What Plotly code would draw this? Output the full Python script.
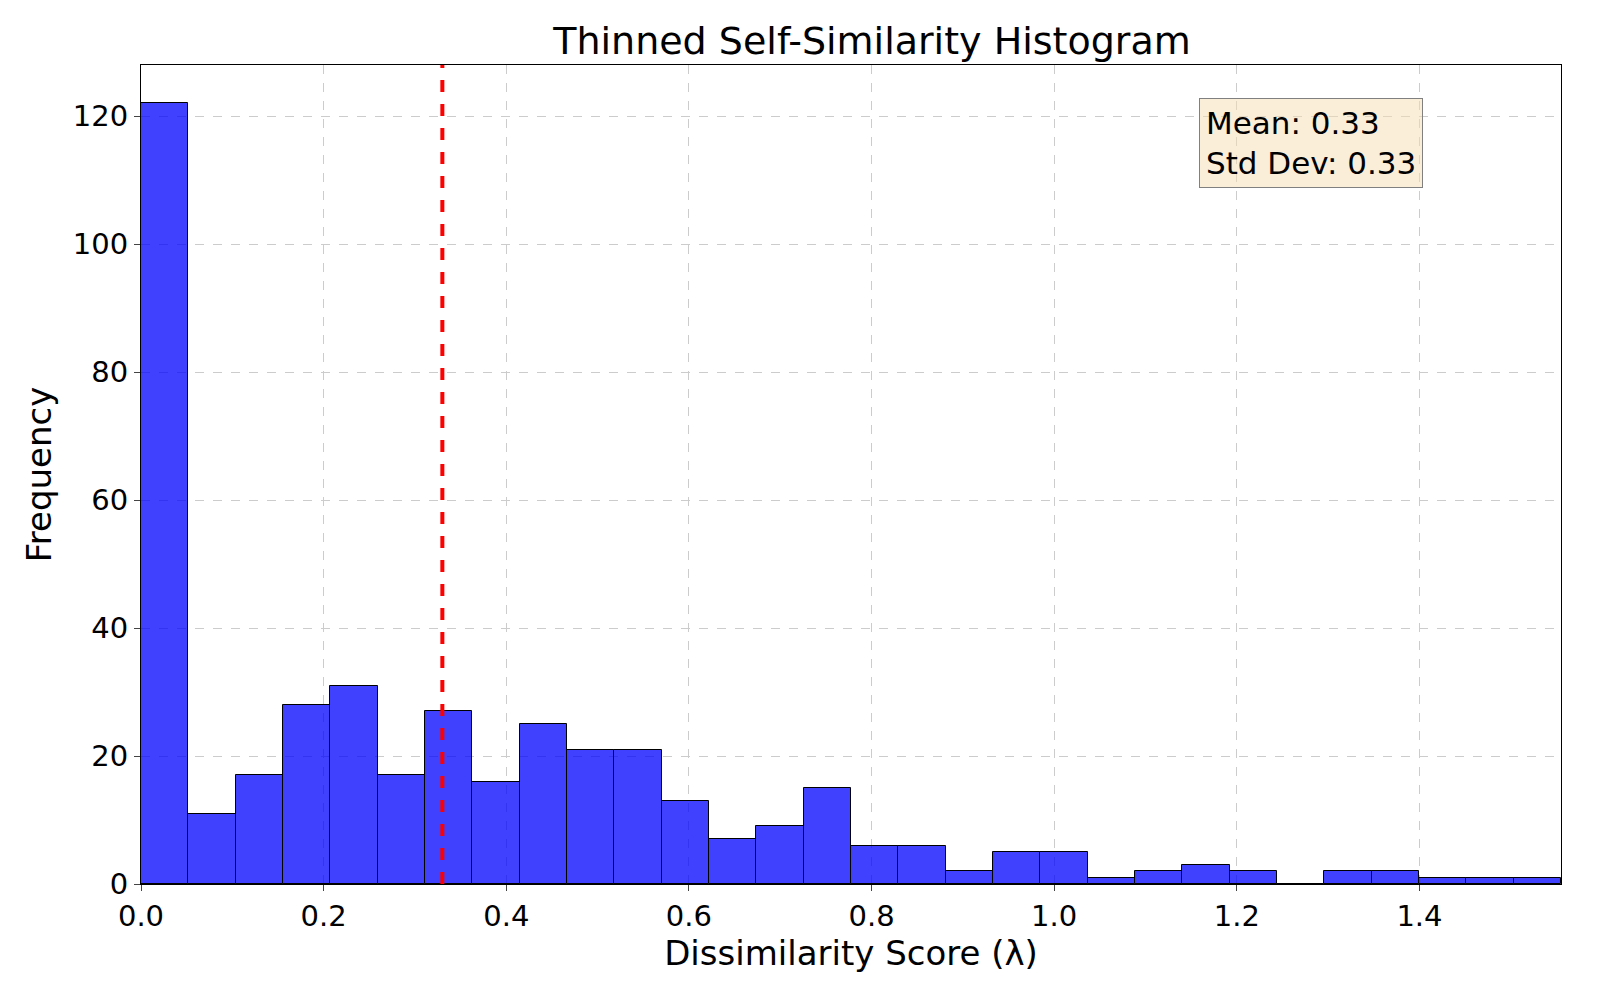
import numpy as np
import plotly.graph_objects as go

x_min, x_max = 0.0, 1.555
counts = [122, 11, 17, 28, 31, 17, 27, 16, 25, 21, 21, 13, 7, 9, 15,
          6, 6, 2, 5, 5, 1, 2, 3, 2, 0, 2, 2, 1, 1, 1]
mean_val = 0.33
std_val = 0.33

edges = np.linspace(x_min, x_max, len(counts) + 1)
centers = (edges[:-1] + edges[1:]) / 2
width = edges[1] - edges[0]

fig = go.Figure()
fig.add_trace(go.Bar(x=centers, y=counts, width=width,
                     marker=dict(color="rgba(0,0,255,0.75)", line=dict(color="black", width=1))))
fig.add_shape(type="line", x0=mean_val, x1=mean_val, y0=0, y1=1, yref="paper",
              line=dict(color="red", width=4, dash="dash"))
fig.add_annotation(x=0.745, y=0.96, xref="paper", yref="paper", xanchor="left", yanchor="top",
                   text=f"Mean: {mean_val:.2f}<br>Std Dev: {std_val:.2f}", align="left",
                   showarrow=False, font=dict(size=31, color="black"),
                   bgcolor="rgba(245,222,179,0.5)", bordercolor="gray", borderwidth=1, borderpad=6)

fig.update_layout(
    width=1600, height=1000,
    margin=dict(l=133, r=47, t=57, b=124),
    title=dict(text="Thinned Self-Similarity Histogram", x=0.54, xanchor="center",
               y=0.967, yanchor="middle", font=dict(size=38)),
    font=dict(family="DejaVu Sans", color="black"),
    plot_bgcolor="white", paper_bgcolor="white", showlegend=False, bargap=0,
)
fig.update_xaxes(range=[x_min, x_max], dtick=0.2, tickformat=".1f", tickfont=dict(size=29),
                 title=dict(text="Dissimilarity Score (λ)", font=dict(size=34), standoff=6),
                 showgrid=True, gridcolor="#cccccc", griddash="dash",
                 showline=True, linecolor="black", mirror=True, ticks="outside", ticklen=6)
fig.update_yaxes(range=[0, 128], dtick=20, tickfont=dict(size=29),
                 title=dict(text="Frequency", font=dict(size=34), standoff=10),
                 showgrid=True, gridcolor="#cccccc", griddash="dash", zeroline=False,
                 showline=True, linecolor="black", mirror=True, ticks="outside", ticklen=6)

fig.write_html("out.html")
